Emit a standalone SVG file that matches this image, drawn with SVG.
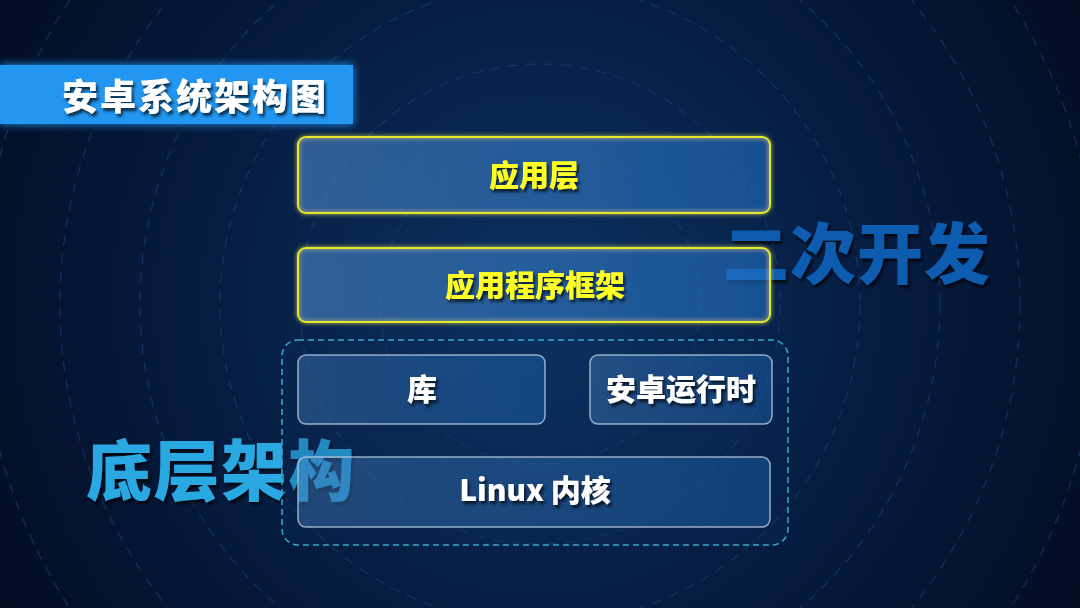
<svg xmlns="http://www.w3.org/2000/svg" width="1080" height="608" viewBox="0 0 1080 608">
<defs>
<radialGradient id="bg" cx="540" cy="300" r="650" gradientUnits="userSpaceOnUse">
<stop offset="0" stop-color="#0c3262"/>
<stop offset="0.5" stop-color="#061d42"/>
<stop offset="1" stop-color="#020b20"/>
</radialGradient>
<linearGradient id="boxfill" x1="0" y1="0" x2="1" y2="0">
<stop offset="0" stop-color="#4a85c4" stop-opacity="0.38"/>
<stop offset="1" stop-color="#1f6ec0" stop-opacity="0.38"/>
</linearGradient>
<filter id="shadow" x="-10%" y="-20%" width="130%" height="150%">
<feDropShadow dx="2" dy="3" stdDeviation="1.5" flood-color="#000" flood-opacity="0.7"/>
</filter>
<filter id="glow" x="-10%" y="-30%" width="120%" height="160%">
<feGaussianBlur stdDeviation="4" result="b"/>
<feMerge><feMergeNode in="b"/><feMergeNode in="SourceGraphic"/></feMerge>
</filter>
<filter id="yglow" x="-5%" y="-20%" width="110%" height="140%">
<feGaussianBlur stdDeviation="2" result="b"/>
<feMerge><feMergeNode in="b"/><feMergeNode in="SourceGraphic"/></feMerge>
</filter>
</defs>
<style>
.ring{fill:none;stroke:#1d4379;stroke-width:1.2;stroke-dasharray:10 8;opacity:0.6}
.ybox{fill:url(#boxfill);stroke:#e6e62a;stroke-width:2}
.wbox{fill:url(#boxfill);stroke:#b9cce0;stroke-width:1.5;stroke-opacity:0.8}
.lbl{font-family:"Noto Sans CJK SC","Noto Sans",sans-serif;font-weight:900;text-anchor:middle;filter:url(#shadow)}
.ylbl{fill:#ffff26;font-size:30px}
.wlbl{fill:#ffffff;font-size:30px}
.big{font-family:"Noto Sans CJK SC",sans-serif;font-weight:900;font-size:66px;filter:url(#shadow)}
</style>
<rect width="1080" height="608" fill="url(#bg)"/>
<g id="rings">
<circle class="ring" cx="540" cy="304" r="160"/>
<circle class="ring" cx="540" cy="304" r="240"/>
<circle class="ring" cx="540" cy="304" r="320"/>
<circle class="ring" cx="540" cy="304" r="400"/>
<circle class="ring" cx="540" cy="304" r="480"/>
<circle class="ring" cx="540" cy="304" r="560"/>
</g>
<g id="title">
<rect x="0" y="65" width="353" height="59" fill="#2196f0" filter="url(#glow)"/>
<text x="62" y="110" font-family="Noto Sans CJK SC,sans-serif" font-weight="900" font-size="36" letter-spacing="2" fill="#ffffff" filter="url(#shadow)">安卓系统架构图</text>
</g>
<g id="secondary-dev">
<text class="big" x="723" y="278" fill="#0b5cb0" letter-spacing="1">二次开发</text>
</g>
<g id="underlying">
<text class="big" x="86" y="495" fill="#2aa8e2" letter-spacing="1.5">底层架构</text>
</g>
<g id="connectors"></g>
<g id="bottom-group">
<rect x="282" y="340" width="506" height="205" rx="16" fill="#0a3160" fill-opacity="0.25" stroke="#38aacc" stroke-width="1.5" stroke-dasharray="6 4"/>
</g>
<g id="app-layer">
<rect class="ybox" x="298" y="137" width="472" height="76" rx="8" filter="url(#yglow)"/>
<text class="lbl ylbl" x="534" y="186">应用层</text>
</g>
<g id="app-framework">
<rect class="ybox" x="298" y="248" width="472" height="74" rx="8" filter="url(#yglow)"/>
<text class="lbl ylbl" x="535" y="296">应用程序框架</text>
</g>
<g id="libraries">
<rect class="wbox" x="298" y="355" width="247" height="69" rx="8"/>
<text class="lbl wlbl" x="422" y="400">库</text>
</g>
<g id="android-runtime">
<rect class="wbox" x="590" y="355" width="182" height="69" rx="8"/>
<text class="lbl wlbl" x="681" y="400">安卓运行时</text>
</g>
<g id="linux-kernel">
<rect class="wbox" x="298" y="457" width="472" height="70" rx="8"/>
<text class="lbl wlbl" x="535" y="501">Linux 内核</text>
</g>
</svg>
